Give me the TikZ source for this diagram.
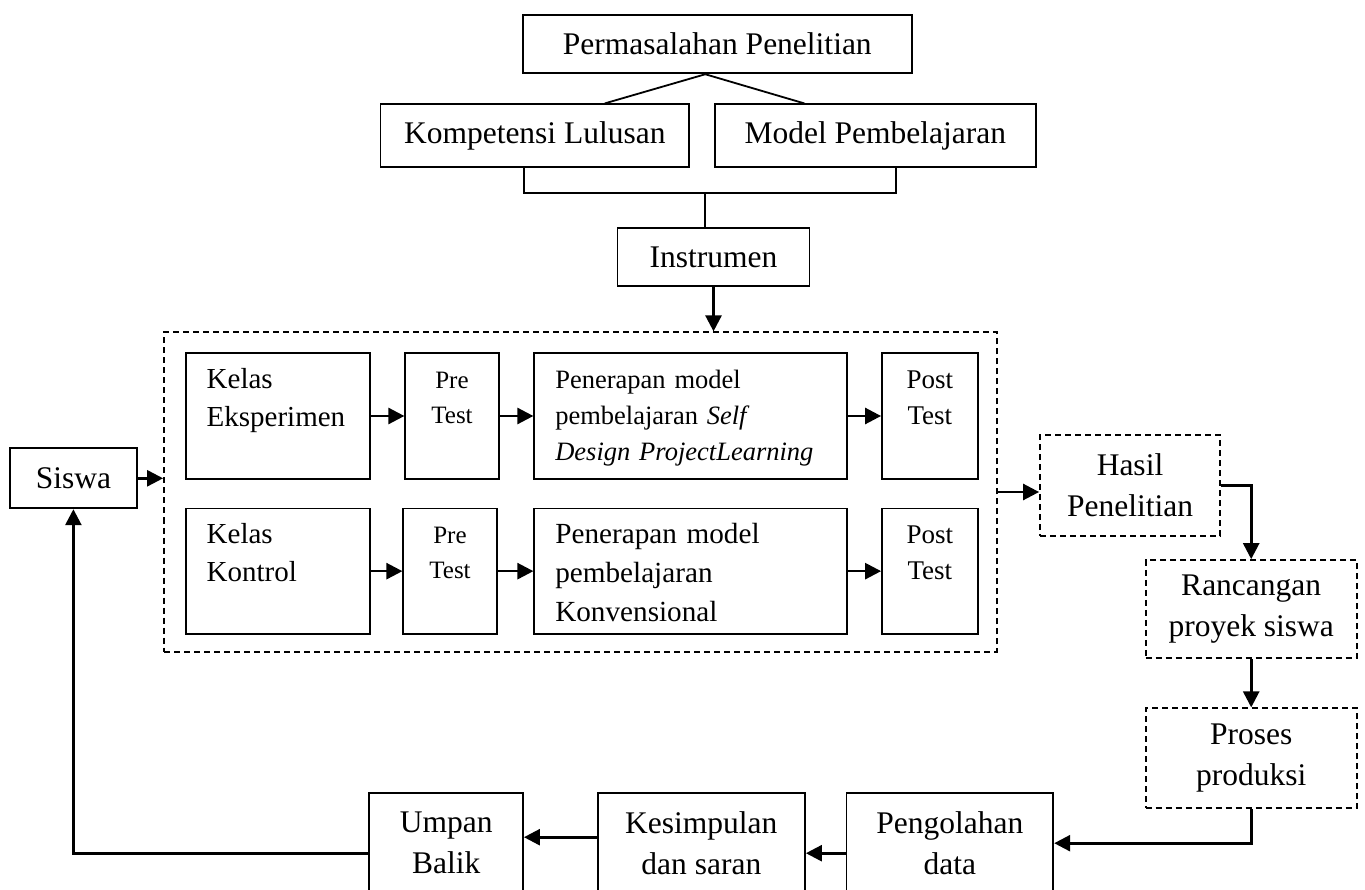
\documentclass[tikz,border=0pt]{standalone}
\usepackage{fontspec}
\setmainfont{Liberation Serif}
\usepackage{tikz}
\usetikzlibrary{arrows.meta}
\newcommand{\hurufA}{\fontsize{31.5}{41}\selectfont}
\newcommand{\hurufKelas}{\fontsize{29}{38}\selectfont}
\newcommand{\hurufPre}{\fontsize{25}{35}\selectfont}
\newcommand{\hurufSelf}{\fontsize{26.5}{36}\selectfont}
\newcommand{\hurufKonv}{\fontsize{29.2}{39}\selectfont}
\newcommand{\hurufPost}{\fontsize{27}{36}\selectfont}
\tikzset{
  kotak/.style={draw, line width=1.8pt, inner sep=0pt, align=center, font=\hurufA},
  kotakputus/.style={kotak, dash pattern=on 6pt off 4pt},
  grupbox/.style={draw, line width=1.8pt, dash pattern=on 6pt off 4pt, inner sep=0pt},
  isi/.style={draw, line width=1.8pt, inner xsep=21pt, inner ysep=0pt, text height=35pt, text depth=90.4pt, align=left},
  tes/.style={isi, inner xsep=0pt, align=center},
  garis/.style={line width=1.8pt},
  panah/.style={line width=2.6pt, -{Triangle[length=16pt,width=16pt]}}
}

\begin{document}
\begin{tikzpicture}[x=1pt,y=-1pt]
    \useasboundingbox (0,0) rectangle (1365,890);
    \clip (0,0) rectangle (1365,890);
    % top
    \node[kotak, minimum width=389.3pt, minimum height=58.3pt] (masalah) at (717.3,44.2) {Permasalahan Penelitian};
    \node[kotak, minimum width=308.8pt, minimum height=63pt] (kompetensi) at (534.8,135.8) {Kompetensi Lulusan};
    \node[kotak, minimum width=320.8pt, minimum height=63pt] (model) at (875.3,135.8) {Model Pembelajaran};
    \node[kotak, minimum width=192pt, minimum height=57.5pt] (instrumen) at (713.5,257) {Instrumen};
    \coordinate (tengah) at (705,193.3);
    \draw[garis] ([xshift=-12pt]masalah.south) -- ([xshift=70pt]kompetensi.north);
    \draw[garis] ([xshift=-12pt]masalah.south) -- ([xshift=-71pt]model.north);
    \draw[garis] ([xshift=-11pt]kompetensi.south) |- (tengah) -| ([xshift=21pt]model.south);
    \draw[garis] (tengah) -- (tengah |- instrumen.north);
    % group
    \node[grupbox, minimum width=832.7pt, minimum height=319.4pt] (grup) at (580.35,492) {};
    \draw[panah] (instrumen.south) -- (instrumen.south |- grup.north);
    % row1
    \node[isi, text width=142.3pt, font=\hurufKelas] (kelasA) at (277.85,416) {Kelas\\Eksperimen};
    \node[tes, text width=93.4pt, font=\hurufPre] (preA) at (452,416) {Pre\\Test};
    \node[isi, text width=270.4pt, font=\hurufSelf] (terapA) at (690.5,416) {Penerapan model\\pembelajaran \textit{Self}\\\textit{Design ProjectLearning}};
    \node[tes, text width=95.7pt, font=\hurufPost] (postA) at (929.85,416) {Post\\Test};
    % row2
    \node[isi, text width=142.3pt, font=\hurufKelas] (kelasB) at (277.85,571.15) {Kelas\\Kontrol};
    \node[tes, text width=93.4pt, font=\hurufPre] (preB) at (450,571.15) {Pre\\Test};
    \node[isi, text width=270.4pt, font=\hurufKonv] (terapB) at (690.5,571.15) {Penerapan model\\pembelajaran\\Konvensional};
    \node[tes, text width=95.7pt, font=\hurufPost] (postB) at (929.85,571.15) {Post\\Test};
    \draw[panah] (kelasA) -- (preA);
    \draw[panah] (preA) -- (terapA);
    \draw[panah] (terapA) -- (postA);
    \draw[panah] (kelasB) -- (preB);
    \draw[panah] (preB) -- (terapB);
    \draw[panah] (terapB) -- (postB);
    % right
    \node[kotakputus, minimum width=180pt, minimum height=100.7pt] (hasil) at (1130,485.3) {Hasil\\Penelitian};
    \node[kotakputus, minimum width=211pt, minimum height=98.3pt] (rancangan) at (1251.2,609.2) {Rancangan\\proyek siswa};
    \node[kotakputus, minimum width=211pt, minimum height=100pt] (proses) at (1251.2,758.3) {Proses\\produksi};
    % bottom
    \node[kotak, minimum width=206.9pt, minimum height=99.7pt] (olah) at (949.85,843.2) {Pengolahan\\data};
    \node[kotak, minimum width=207.3pt, minimum height=99.7pt] (simpul) at (701.35,843.2) {Kesimpulan\\dan saran};
    \node[kotak, minimum width=153.7pt, minimum height=99.7pt] (umpan) at (446.2,843.2) {Umpan\\Balik};
    \node[kotak, minimum width=126.7pt, minimum height=60pt] (siswa) at (73.4,478.3) {Siswa};
    \draw[panah] (siswa.east) -- (siswa.east -| grup.west);
    \draw[panah] (grup.east) -- (grup.east -| hasil.west);
    \draw[panah] (hasil.east) -| (rancangan.north);
    \draw[panah] (rancangan) -- (proses);
    \draw[panah] (proses.south) |- (olah.east);
    \draw[panah] ([yshift=-10pt]olah.west) -- ([yshift=-10pt]olah.west -| simpul.east);
    \draw[panah] ([yshift=6pt]simpul.west) -- ([yshift=6pt]simpul.west -| umpan.east);
    \draw[panah] ([yshift=-10pt]umpan.west) -| (siswa.south);
\end{tikzpicture}
\end{document}
